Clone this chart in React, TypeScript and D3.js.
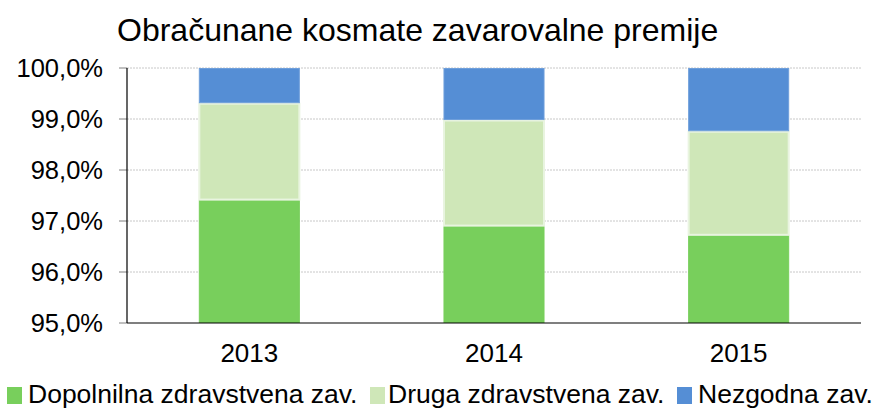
import React from "react";
import * as d3 from "d3";

const categories = ["2013", "2014", "2015"];
const seriesNames = ["Dopolnilna zdravstvena zav.", "Druga zdravstvena zav.", "Nezgodna zav."];
const dopolnilna = [97.41, 96.9, 96.72];
const druga = [1.9, 2.08, 2.04];
const nezgodna = [0.69, 1.02, 1.24];
const yTicks = [95, 96, 97, 98, 99, 100];
const title = "Obračunane kosmate zavarovalne premije";

const colors = ["#78cf5c", "#cfe7b8", "#558ed5"];
const strokes = ["#78cf5c", "#e9f4e0", "#6f9fdb"];

export default function App() {
  const W = 876, H = 410;
  const left = 127, right = 861, top = 68, bottom = 323;
  const x = d3.scaleBand<string>().domain(categories).range([left, right]).paddingInner(0.587).paddingOuter(0.2935);
  const y = d3.scaleLinear().domain([95, 100]).range([bottom, top]);
  const rows = categories.map((c, i) => ({ cat: c, s0: dopolnilna[i], s1: druga[i], s2: nezgodna[i] }));
  const stack = d3.stack<any>().keys(["s0", "s1", "s2"]).offset(d3.stackOffsetNone)(rows);
  const fmt = (v: number) => v.toFixed(1).replace(".", ",") + "%";
  const font = "Liberation Sans, Arial, sans-serif";
  const legendSquareX = [7, 370, 677];
  const legendTextX = [28, 388, 698];

  return (
    <svg width={W} height={H} style={{ position: "absolute", left: 0, top: 0, background: "#fff" }} fontFamily={font}>
      <text x={117} y={41} fontSize={32} fill="#000">{title}</text>
      {yTicks.map((t) => (
        <g key={t}>
          {t !== 95 && (
            <line x1={left} x2={right} y1={y(t)} y2={y(t)} stroke="#c8c8c8" strokeWidth={1} strokeDasharray="2,1" />
          )}
          <line x1={left - 8} x2={left} y1={y(t)} y2={y(t)} stroke="#808080" strokeWidth={1} />
          <text x={103} y={y(t)} dy="0.35em" textAnchor="end" fontSize={25.5} fill="#000">{fmt(t)}</text>
        </g>
      ))}
      {stack.map((layer, li) => (
        <g key={li}>
          {layer.map((d, i) => {
            const y0 = Math.max(d[0], 95);
            const yTop = y(d[1]);
            const yBot = y(y0);
            const bx = x(categories[i])!;
            const bw = x.bandwidth();
            return (
              <rect key={i} x={bx + 0.5} y={yTop + 0.5} width={bw - 1} height={Math.max(0, yBot - yTop - 1)}
                fill={colors[li]} stroke={strokes[li]} strokeWidth={li === 1 ? 2 : 1} />
            );
          })}
        </g>
      ))}
      <line x1={left} x2={left} y1={top} y2={bottom} stroke="#000" strokeWidth={1.2} />
      <line x1={left} x2={right} y1={bottom} y2={bottom} stroke="#000" strokeWidth={1.2} />
      {categories.map((c) => (
        <text key={c} x={x(c)! + x.bandwidth() / 2} y={362} textAnchor="middle" fontSize={26} fill="#000">{c}</text>
      ))}
      {seriesNames.map((n, i) => (
        <g key={n}>
          <rect x={legendSquareX[i]} y={387} width={15} height={17} fill={colors[i]} />
          <text x={legendTextX[i]} y={403} fontSize={26.5} fill="#000">{n}</text>
        </g>
      ))}
    </svg>
  );
}
